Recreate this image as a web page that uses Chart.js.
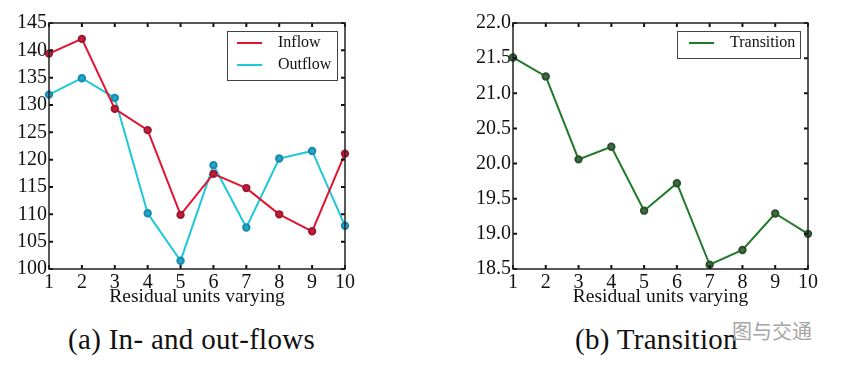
<!DOCTYPE html>
<html>
<head>
<meta charset="utf-8">
<script src="https://cdn.jsdelivr.net/npm/chart.js@4/dist/chart.umd.min.js"></script>
<style>
  body { margin: 0; background: #fff; width: 841px; height: 370px; position: relative; overflow: hidden; }
  canvas { position: absolute; top: 0; }
  .cap { position: absolute; font-family: "Liberation Serif", serif; font-size: 29px; letter-spacing: 0.3px; line-height: 30px; color: #111; white-space: nowrap; }
  .mark { position: absolute; font-family: "Noto Sans CJK SC", sans-serif; font-size: 20px; line-height: 22px; color: #a6a6a6; }
</style>
</head>
<body>
<canvas id="flowChart" style="left:0px"></canvas>
<canvas id="transChart" style="left:440px"></canvas>
<div class="cap" style="left:68px; top:324px">(a) In- and out-flows</div>
<div class="cap" style="left:575px; top:324px">(b) Transition</div>
<div class="mark" style="left:732px; top:320px">图与交通</div>

<script>
const units = ["1", "2", "3", "4", "5", "6", "7", "8", "9", "10"];
const inflow = [139.4, 142.1, 129.3, 125.4, 109.9, 117.4, 114.8, 110.0, 106.9, 121.1];
const outflow = [131.9, 134.9, 131.3, 110.2, 101.5, 119.0, 107.6, 120.2, 121.6, 107.9];
const transition = [21.51, 21.24, 20.06, 20.24, 19.33, 19.72, 18.56, 18.77, 19.29, 19.0];

const SERIF = "'Liberation Serif', 'Times New Roman', serif";

/* frame + inward ticks on all four sides, like the old matplotlib look */
const framePlugin = {
  id: "frame",
  afterDatasetsDraw(chart) {
    const { ctx, chartArea: a, scales } = chart;
    ctx.save();
    ctx.strokeStyle = "#111";
    ctx.lineWidth = 2;
    const len = 4;
    scales.x.ticks.forEach((t, i) => {
      const px = scales.x.getPixelForTick(i);
      ctx.beginPath();
      ctx.moveTo(px, a.bottom); ctx.lineTo(px, a.bottom - len);
      ctx.moveTo(px, a.top); ctx.lineTo(px, a.top + len);
      ctx.stroke();
    });
    scales.y.ticks.forEach(t => {
      const py = scales.y.getPixelForValue(t.value);
      ctx.beginPath();
      ctx.moveTo(a.left, py); ctx.lineTo(a.left + len, py);
      ctx.moveTo(a.right, py); ctx.lineTo(a.right - len, py);
      ctx.stroke();
    });
    ctx.lineWidth = 1.5;
    ctx.strokeStyle = "#222";
    ctx.strokeRect(a.left, a.top, a.right - a.left, a.bottom - a.top);
    ctx.restore();
  }
};

/* legend box drawn inside the plot, top right */
const boxLegend = {
  id: "boxLegend",
  afterDraw(chart, args, opts) {
    const { ctx, chartArea: a } = chart;
    const sets = chart.data.datasets;
    const w = opts.width, rowH = 22;
    const h = sets.length * rowH + 5;
    const x0 = a.right - 8 - w, y0 = a.top + 8;
    ctx.save();
    ctx.fillStyle = "#fff";
    ctx.fillRect(x0, y0, w, h);
    ctx.strokeStyle = "#444";
    ctx.lineWidth = 1;
    ctx.strokeRect(x0 + 0.5, y0 + 0.5, w, h);
    ctx.font = "16px " + SERIF;
    ctx.textBaseline = "middle";
    sets.forEach((s, i) => {
      const cy = y0 + 12 + i * rowH;
      ctx.strokeStyle = s.borderColor;
      ctx.lineWidth = 2;
      ctx.beginPath();
      ctx.moveTo(x0 + opts.lineX, cy); ctx.lineTo(x0 + opts.lineX + 25, cy);
      ctx.stroke();
      ctx.fillStyle = "#111";
      ctx.fillText(s.label, x0 + opts.textX, cy);
    });
    ctx.restore();
  }
};

function makeOptions(min, max, step, digits, legend) {
  return {
    responsive: false,
    animation: false,
    layout: { padding: { top: 23, right: 55, left: 0, bottom: 0 } },
    plugins: {
      legend: { display: false },
      tooltip: { enabled: false },
      boxLegend: legend
    },
    scales: {
      x: {
        offset: false,
        grid: { display: false, drawTicks: false },
        border: { display: false },
        ticks: { color: "#111", font: { family: SERIF, size: 20 }, padding: 2, maxRotation: 0 },
        title: { display: true, text: "Residual units varying", color: "#111", font: { family: SERIF, size: 19.5 }, padding: { top: 0, bottom: 1 } },
        afterFit(scale) { scale.height = 41; }
      },
      y: {
        min, max,
        grid: { display: false, drawTicks: false },
        border: { display: false },
        ticks: {
          stepSize: step, color: "#111", padding: 2,
          font: { family: SERIF, size: 20 },
          callback: v => Number(v).toFixed(digits)
        },
        afterFit(scale) { scale.width = 49; }
      }
    }
  };
}

function sizeCanvas(id, w, h) {
  const c = document.getElementById(id);
  c.width = w; c.height = h;
  c.style.width = w + "px"; c.style.height = h + "px";
  return c;
}

new Chart(sizeCanvas("flowChart", 400, 310), {
  type: "line",
  data: {
    labels: units,
    datasets: [
      {
        label: "Inflow",
        data: inflow,
        borderColor: "#e3122f",
        backgroundColor: "#c81a3a",
        pointBackgroundColor: "#c81a3a",
        pointBorderColor: "#9a1a30",
        borderWidth: 2,
        pointRadius: 3.2,
        tension: 0
      },
      {
        label: "Outflow",
        data: outflow,
        borderColor: "#1ec8d8",
        backgroundColor: "#1fa3d0",
        pointBackgroundColor: "#1fa8d2",
        pointBorderColor: "#1a8aa8",
        borderWidth: 2,
        pointRadius: 3.2,
        tension: 0
      }
    ]
  },
  options: makeOptions(100, 145, 5, 0, { width: 110, lineX: 10, textX: 51 }),
  plugins: [framePlugin, boxLegend]
});

new Chart(sizeCanvas("transChart", 400, 310), {
  type: "line",
  data: {
    labels: units,
    datasets: [{
      label: "Transition",
      data: transition,
      borderColor: "#1f7a2a",
      backgroundColor: "#3c6a3c",
      pointBackgroundColor: "#3f6b3f",
      pointBorderColor: "#2c4f2c",
      borderWidth: 2,
      pointRadius: 3.2,
      tension: 0
    }]
  },
  options: (() => {
    const o = makeOptions(18.5, 22.0, 0.5, 1, { width: 123, lineX: 12, textX: 53 });
    o.scales.y.afterFit = scale => { scale.width = 73; };
    o.layout.padding.right = 32;
    return o;
  })(),
  plugins: [framePlugin, boxLegend]
});
</script>
</body>
</html>
